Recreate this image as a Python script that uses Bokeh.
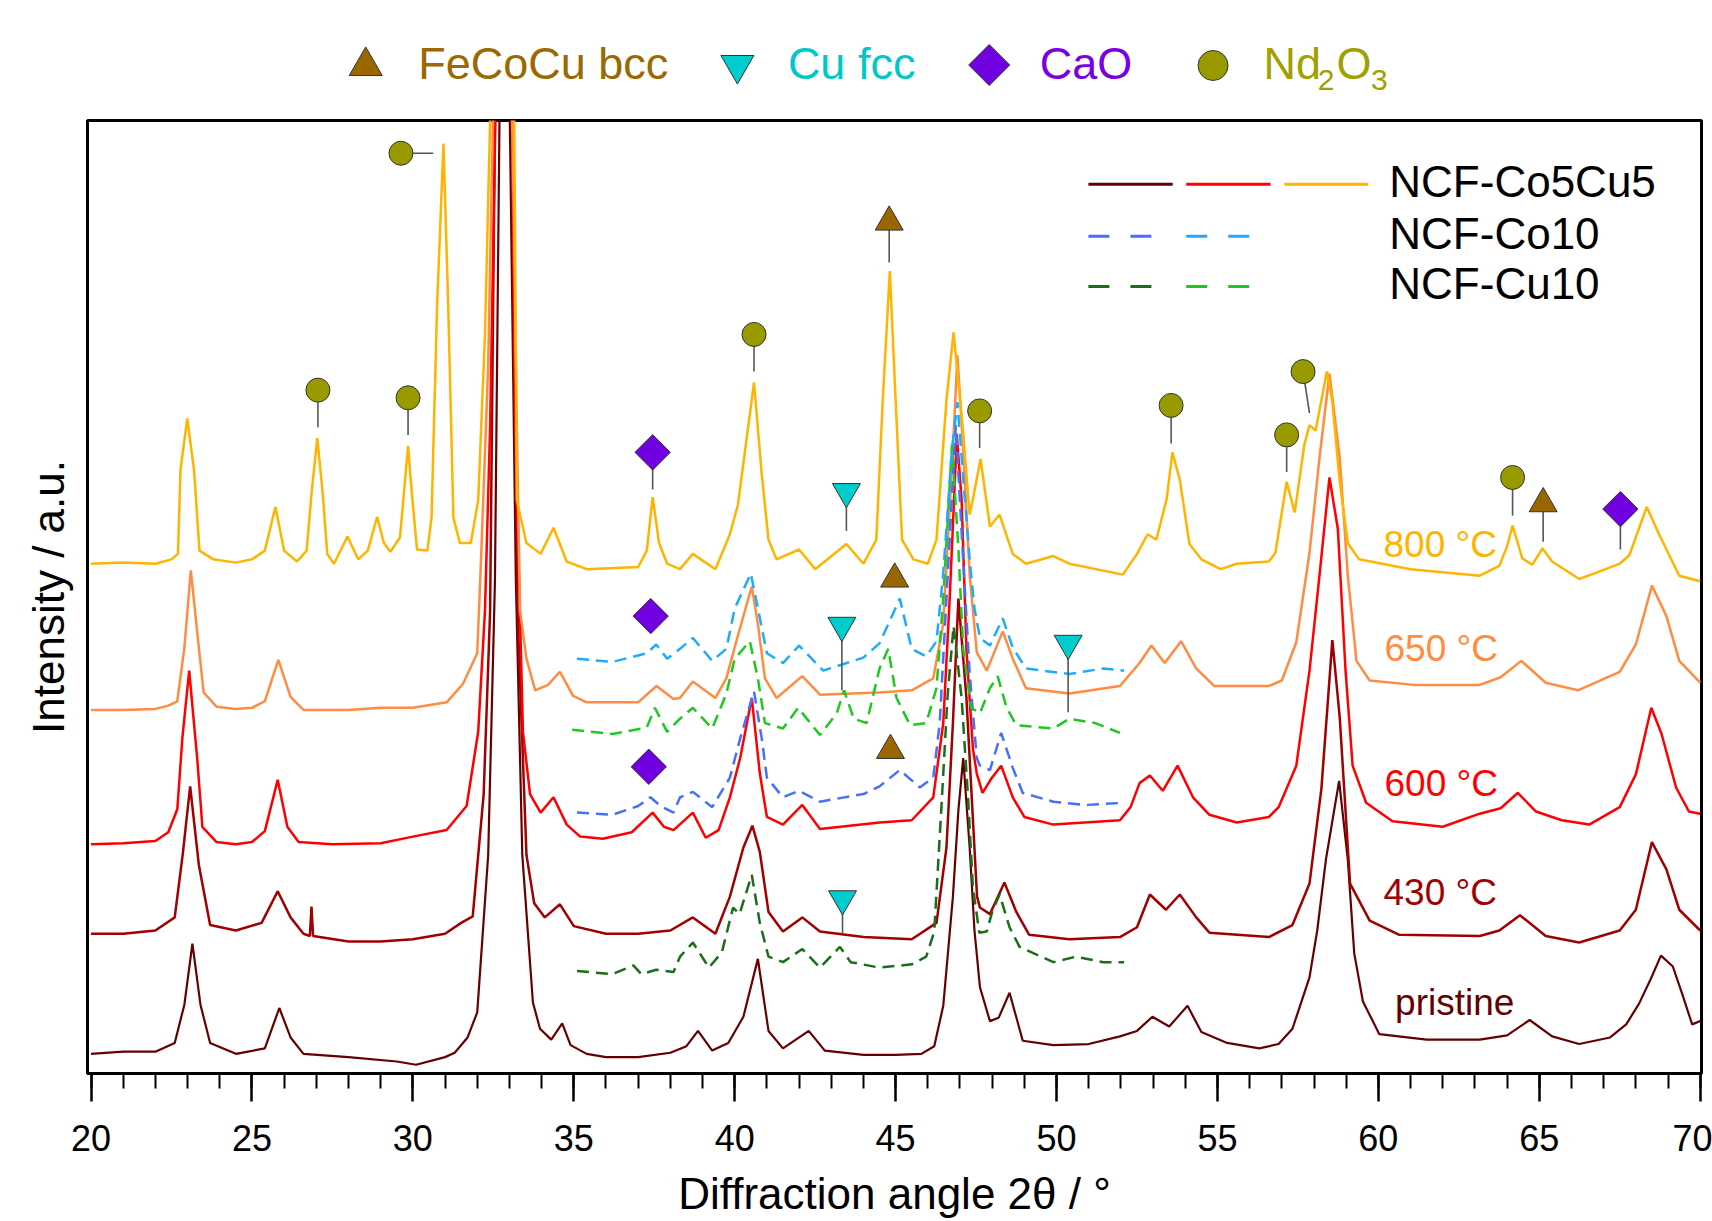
import math
from bokeh.plotting import figure
from bokeh.models import Range1d, SingleIntervalTicker, FixedTicker, Label
from bokeh.layouts import column
from bokeh.embed import file_html
from bokeh.resources import INLINE

FONT = "Liberation Sans"

# ---------------- data (2theta in deg, intensity in a.u. with vertical offsets as plotted) -------------
pristine = [(20.0,17),(21.0,19),(22.0,19),(22.6,27),(22.9,62),(23.15,118),(23.4,62),(23.7,27),(24.5,17),
            (25.4,22),(25.85,59),(26.2,32),(26.6,17),(28.0,14),(29.5,10),(30.1,7),(31.0,14),(31.3,18),
            (31.7,32),(32.0,55),(32.34,199),(32.55,450),(32.7,900),(32.85,1300),(33.0,900),(33.2,450),
            (33.4,199),(33.73,64),(33.95,40),(34.3,30),(34.64,45),(34.9,25),(35.4,17),(36.0,14),(37.0,14),
            (38.0,18),(38.5,24),(38.86,38),(39.3,20),(39.8,27),(40.27,51),(40.72,104),(41.05,38),(41.5,22),
            (42.3,38),(42.8,20),(44.0,16),(45.0,16),(45.8,17),(46.2,24),(46.48,61),(46.78,161),(46.95,240),
            (47.1,288),(47.3,206),(47.45,130),(47.62,78),(47.93,47),(48.2,50),(48.54,73),(48.95,29),
            (49.9,25),(51.0,26),(51.97,33),(52.5,38),(52.98,51),(53.5,42),(54.07,61),(54.5,37),(55.3,27),
            (56.3,22),(56.9,26),(57.33,40),(57.86,87),(58.1,130),(58.37,195),(58.78,267),(59.05,195),
            (59.25,109),(59.52,65),(60.03,35),(61.5,30),(63.15,30),(64.0,34),(64.7,48),(65.4,33),
            (66.24,26),(67.2,32),(67.7,44),(68.1,63),(68.47,86),(68.78,107),(69.15,97),(69.45,71),
            (69.75,44),(70.0,47)]

t430 = [(20.0,127),(21.0,127),(22.0,130),(22.6,142),(22.85,200),(23.08,262),(23.35,190),(23.7,135),
        (24.5,130),(25.3,137),(25.8,166),(26.2,142),(26.6,127),(26.8,125),(26.85,152),(26.9,125),
        (28.0,120),(29.0,120),(30.0,122),(31.0,127),(31.5,137),(31.86,143),(32.2,255),(32.4,423),
        (32.55,872),(32.8,1300),(33.1,872),(33.25,423),(33.53,199),(33.77,155),(34.1,142),(34.57,154),
        (35.0,134),(36.0,127),(37.0,127),(38.0,130),(38.7,142),(39.4,127),(39.85,161),(40.27,206),
        (40.55,226),(40.78,202),(41.05,147),(41.5,129),(42.1,142),(42.65,129),(44.0,124),(45.5,122),
        (46.27,137),(46.58,206),(46.78,320),(46.95,434),(47.2,343),(47.53,161),(47.62,151),(47.93,145),
        (48.38,174),(48.75,147),(49.15,126),(50.4,122),(51.97,124),(52.5,133),(52.9,163),(53.4,149),
        (53.83,163),(54.34,142),(54.75,128),(56.6,124),(57.33,135),(57.86,173),(58.23,260),(58.57,396),
        (58.8,325),(59.12,173),(59.73,139),(60.65,126),(63.15,125),(63.76,130),(64.4,144),(65.2,125),
        (66.24,119),(67.5,130),(68.0,149),(68.5,211),(68.95,186),(69.35,149),(70.0,130)]

t600 = [(20.0,209),(21.0,210),(22.0,212),(22.4,220),(22.68,241),(22.84,307),(23.05,368),(23.3,287),
        (23.46,225),(23.9,211),(24.5,209),(25.0,211),(25.4,221),(25.8,268),(26.1,225),(26.45,211),
        (27.5,209),(29.0,210),(30.0,216),(31.05,222),(31.67,244),(32.03,312),(32.24,423),(32.4,592),
        (32.5,760),(32.8,1300),(33.08,872),(33.18,592),(33.42,312),(33.64,255),(33.97,238),(34.37,252),
        (34.78,227),(35.2,216),(35.9,214),(36.8,220),(37.27,233),(37.45,238),(37.8,225),(38.1,222),
        (38.7,238),(39.1,215),(39.5,222),(39.85,252),(40.17,288),(40.53,343),(40.78,274),(41.0,234),
        (41.5,227),(42.1,245),(42.65,223),(44.5,229),(45.5,231),(46.17,252),(46.48,320),(46.68,434),
        (46.85,548),(46.9,584),(47.05,525),(47.2,388),(47.4,297),(47.52,274),(47.7,256),(47.97,269),
        (48.28,281),(48.64,252),(49.0,234),(49.9,227),(51.97,231),(52.3,243),(52.58,265),(52.9,272),
        (53.3,258),(53.76,281),(54.24,252),(54.75,236),(55.6,229),(56.6,234),(56.9,243),(57.45,281),
        (57.86,368),(58.17,455),(58.48,545),(58.74,498),(58.98,368),(59.2,281),(59.62,247),(60.44,230),
        (62.0,225),(63.15,237),(63.8,242),(64.33,256),(64.9,239),(65.7,231),(66.55,227),(67.5,243),
        (68.0,273),(68.48,334),(68.8,310),(69.25,261),(69.65,239),(70.0,237)]

t650 = [(20.0,332),(21.0,332),(22.0,333),(22.4,336),(22.68,340),(22.9,389),(23.1,460),(23.35,389),
        (23.5,348),(23.9,335),(24.5,333),(25.0,334),(25.4,340),(25.82,378),(26.2,344),(26.6,332),
        (28.0,332),(29.0,334),(30.0,334),(31.05,339),(31.56,356),(32.0,384),(32.13,479),(32.34,648),
        (32.45,816),(32.8,1300),(33.12,816),(33.23,592),(33.33,423),(33.53,379),(33.8,350),(34.2,355),
        (34.57,367),(34.98,345),(35.4,339),(37.0,339),(37.57,354),(38.1,342),(38.3,343),(38.7,358),
        (39.4,343),(39.74,361),(40.07,397),(40.53,445),(40.72,411),(40.94,361),(41.3,343),(42.1,363),
        (42.65,346),(44.5,348),(45.5,350),(46.17,361),(46.48,411),(46.78,571),(46.92,657),(47.1,571),
        (47.3,456),(47.52,385),(47.83,368),(48.33,404),(48.64,379),(49.05,352),(50.4,347),(51.97,354),
        (52.58,375),(52.95,391),(53.36,375),(53.87,395),(54.34,370),(54.9,354),(56.6,354),(57.0,359),
        (57.45,394),(57.86,476),(58.17,563),(58.48,640),(58.8,563),(59.05,455),(59.32,377),(59.73,359),
        (61.1,355),(63.15,355),(63.8,362),(64.44,377),(65.2,357),(66.2,350),(67.5,367),(68.0,392),
        (68.5,446),(68.95,418),(69.35,377),(70.0,357)]

t800 = [(20.0,466),(21.0,467),(22.0,466),(22.5,470),(22.7,475),(22.78,552),(22.99,599),(23.2,552),
        (23.37,478),(23.8,470),(24.5,467),(25.0,470),(25.4,478),(25.73,518),(26.0,478),(26.4,468),
        (26.7,478),(26.85,530),(27.03,581),(27.2,530),(27.34,475),(27.55,466),(27.97,491),(28.3,470),
        (28.6,478),(28.89,509),(29.1,485),(29.3,477),(29.6,490),(29.75,540),(29.85,574),(29.97,530),
        (30.13,479),(30.45,478),(30.58,508),(30.75,700),(30.95,851),(31.1,700),(31.26,508),(31.46,485),
        (31.8,485),(32.03,524),(32.24,676),(32.4,872),(32.8,1300),(33.15,872),(33.23,524),(33.53,485),
        (33.97,475),(34.37,499),(34.78,468),(35.4,461),(37.0,463),(37.27,478),(37.45,527),(37.65,485),
        (37.9,466),(38.3,461),(38.7,475),(39.4,461),(39.85,493),(40.1,520),(40.6,632),(40.84,548),
        (41.05,488),(41.3,470),(42.0,479),(42.5,461),(43.47,484),(44.0,466),(44.4,488),(44.6,616),
        (44.82,734),(45.0,616),(45.2,488),(45.55,470),(46.0,466),(46.27,488),(46.58,616),(46.8,678),
        (47.08,593),(47.3,511),(47.4,525),(47.64,562),(47.93,500),(48.23,511),(48.64,475),(49.05,466),
        (49.9,473),(50.4,466),(52.06,456),(52.5,475),(52.83,493),(53.1,488),(53.42,525),(53.6,568),
        (53.83,543),(54.13,484),(54.5,470),(55.1,461),(55.6,466),(56.6,468),(56.8,476),(57.15,541),
        (57.4,513),(57.7,575),(57.86,593),(58.05,588),(58.4,642),(58.57,614),(58.8,541),(59.05,485),
        (59.4,470),(61.0,461),(63.15,455),(63.76,464),(64.0,482),(64.17,501),(64.47,471),(64.78,465),
        (65.1,480),(65.4,468),(66.24,452),(66.8,458),(67.5,466),(67.8,474),(68.34,518),(68.72,493),
        (69.35,455),(70.0,450)]

co10_650 = [(35.1,379),(36.2,376),(37.27,384),(37.56,392),(37.9,379),(38.3,388),(38.7,398),(39.3,377),
            (39.74,388),(40.0,425),(40.5,457),(40.72,425),(41.0,384),(41.5,375),(42.0,391),(42.75,368),
            (44.0,380),(44.5,393),(45.13,434),(45.5,388),(45.95,381),(46.27,395),(46.48,457),(46.75,571),
            (46.92,614),(47.1,545),(47.3,470),(47.45,425),(47.62,398),(47.93,391),(48.33,416),(48.64,389),
            (49.05,370),(50.4,365),(51.45,370),(52.1,368)]

cu10_650 = [(34.95,314),(36.2,310),(37.27,316),(37.52,334),(37.9,312),(38.3,324),(38.7,334),(39.3,315),
            (39.74,347),(40.0,379),(40.47,395),(40.72,361),(40.94,320),(41.5,315),(41.97,334),(42.65,309),
            (43.17,329),(43.4,350),(43.7,324),(44.1,320),(44.5,370),(44.77,388),(45.03,343),(45.45,318),
            (45.95,320),(46.27,352),(46.48,434),(46.75,575),(46.95,480),(47.1,388),(47.35,334),(47.62,329),
            (47.93,352),(48.17,363),(48.45,334),(48.75,318),(49.9,315),(50.4,324),(51.2,320),(51.97,311)]

co10_600 = [(35.1,238),(36.2,236),(37.0,244),(37.38,252),(37.7,244),(38.1,238),(38.3,252),(38.7,257),
            (39.3,243),(39.85,270),(40.17,306),(40.6,349),(40.84,306),(41.0,270),(41.5,252),(42.0,258),
            (42.65,248),(44.0,255),(44.5,262),(45.13,277),(45.75,261),(46.17,270),(46.37,320),(46.58,434),
            (46.87,593),(47.08,479),(47.3,366),(47.52,288),(47.62,281),(47.93,277),(48.28,311),(48.64,279),
            (48.95,256),(49.9,248),(50.9,245),(52.1,247)]

cu10_430 = [(35.1,93),(36.2,90),(36.85,98),(37.1,90),(37.56,94),(38.1,92),(38.3,106),(38.7,119),(39.2,96),
            (39.6,110),(39.95,151),(40.15,145),(40.53,181),(40.78,137),(41.05,106),(41.5,101),(42.1,113),
            (42.65,96),(43.27,115),(43.6,101),(44.5,96),(45.5,99),(45.95,106),(46.2,129),(46.44,252),
            (46.61,343),(46.8,409),(47.05,343),(47.25,252),(47.4,170),(47.6,128),(47.83,129),(48.0,147),
            (48.23,163),(48.54,133),(48.85,115),(49.9,101),(50.6,106),(51.45,101),(52.1,101)]

temp_labels = ["800 °C", "650 °C", "600 °C", "430 °C", "pristine"]
legend_labels = ["NCF-Co5Cu5", "NCF-Co10", "NCF-Cu10"]
phase_names = ["FeCoCu bcc", "Cu fcc", "CaO", "Nd2O3"]

# reflection markers: phase, 2theta, marker height, stem end (x, y) or None
ann_phase = ["Nd2O3", "Nd2O3", "Nd2O3", "Nd2O3", "CaO", "Cu fcc", "FeCoCu bcc", "Nd2O3", "Nd2O3",
             "Nd2O3", "Nd2O3", "Nd2O3", "FeCoCu bcc", "CaO", "CaO", "FeCoCu bcc", "Cu fcc", "Cu fcc",
             "CaO", "FeCoCu bcc", "Cu fcc"]
ann_x = [27.05, 29.85, 29.63, 40.6, 37.45, 43.47, 44.8, 47.61, 53.56, 57.15, 57.66, 64.17, 65.12, 67.52,
         37.39, 44.97, 43.33, 50.36, 37.33, 44.84, 43.35]
ann_y = [625, 618, 842, 676, 568, 532, 779, 606, 611, 584, 642, 545, 521, 516,
         418, 452, 409.5, 393, 280, 295, 159]
ann_stem_x = [27.05, 29.85, 30.63, 40.6, 37.45, 43.47, 44.8, 47.61, 53.56, 57.15, 57.86, 64.17, 65.12, 67.52,
              None, None, 43.33, 50.36, None, None, 43.35]
ann_stem_y = [591, 584, 842, 642, 534, 496, 742, 572, 576, 550, 604, 510, 486, 479,
              None, None, 350, 330, None, None, 127]

# ---------------- styles / layout ----------------
C_PRI, C_430, C_600, C_650, C_800 = "#640000", "#a00000", "#ff0000", "#ff8c40", "#ffb400"
C_CO650, C_CO600, C_CU650, C_CU430 = "#1eaaff", "#466eff", "#1ec81e", "#196e19"
phase_style = {
    "FeCoCu bcc": dict(marker="triangle", size=28, angle=0.0, fill="#996600", text="#9b6900"),
    "Cu fcc": dict(marker="inverted_triangle", size=28, angle=0.0, fill="#00cccc", text="#00c8c8"),
    "CaO": dict(marker="square", size=25, angle=math.pi / 4, fill="#7000e0", text="#7a00e6"),
    "Nd2O3": dict(marker="circle", size=24, angle=0.0, fill="#999900", text="#a0a000"),
}

X0, X1 = 19.89, 70.04
W = 1712
TOP_H = 118
MAIN_H = 1221 - TOP_H
BL, BR = 87, 11
UNIT = 953.0 / 873.0          # px per intensity unit in main frame
BASE_SHIFT = 0.355            # label anchor correction, in em


def lift(font_px, unit=1.0):
    return BASE_SHIFT * font_px / unit


# ---------------- top phase legend ----------------
top = figure(width=W, height=TOP_H, x_range=Range1d(X0, X1), y_range=Range1d(0, TOP_H),
             output_backend="svg", toolbar_location=None, x_axis_location=None, y_axis_location=None,
             min_border_left=BL, min_border_right=BR, min_border_top=0, min_border_bottom=0)
top.grid.visible = False
top.outline_line_color = None
top.background_fill_color = "white"
top.border_fill_color = "white"

leg_marker_x = [28.535, 40.084, 47.908, 54.863]
leg_marker_y = [52.5, 53.5, 53.5, 53.0]
leg_marker_size = [33, 33, 29, 30]
leg_text_x = [30.165, 41.652, 49.476]
for i, name in enumerate(phase_names):
    st = phase_style[name]
    top.scatter([leg_marker_x[i]], [leg_marker_y[i]], marker=st["marker"], size=leg_marker_size[i],
                angle=st["angle"], fill_color=st["fill"], line_color="#333333", line_width=1)
    if name != "Nd2O3":
        top.add_layout(Label(x=leg_text_x[i], y=39 + lift(45), text=name, text_font=FONT,
                             text_font_size="45px", text_color=st["text"], text_baseline="alphabetic",
                             text_align="left"))
nd_col = phase_style["Nd2O3"]["text"]
for txt, xx, yy, fs in [("Nd", 56.431, 39, 45), ("2", 58.12, 28, 30),
                        ("O", 58.70, 39, 45), ("3", 59.77, 28, 30)]:
    top.add_layout(Label(x=xx, y=yy + lift(fs), text=txt, text_font=FONT, text_font_size=f"{fs}px",
                         text_color=nd_col, text_baseline="alphabetic", text_align="left"))

# ---------------- main plot ----------------
p = figure(width=W, height=MAIN_H, x_range=Range1d(X0, X1), y_range=Range1d(-1, 872),
           output_backend="svg", toolbar_location=None,
           min_border_left=BL, min_border_right=BR, min_border_top=2, min_border_bottom=148)
p.grid.visible = False
p.outline_line_color = "black"
p.outline_line_width = 3
p.background_fill_color = "white"
p.border_fill_color = "white"

xa = p.xaxis[0]
xa.ticker = SingleIntervalTicker(interval=5, num_minor_ticks=5)
xa.axis_label = "Diffraction angle 2θ / °"
xa.axis_label_text_font = FONT
xa.axis_label_text_font_size = "44px"
xa.axis_label_text_font_style = "normal"
xa.axis_label_text_color = "black"
xa.axis_label_standoff = 15
xa.major_label_text_font = FONT
xa.major_label_text_font_size = "36px"
xa.major_label_text_color = "black"
xa.major_label_standoff = 23
xa.major_tick_out = 28
xa.major_tick_in = 0
xa.minor_tick_out = 15
xa.minor_tick_in = 0
xa.major_tick_line_width = 2.5
xa.minor_tick_line_width = 2
xa.major_tick_line_color = "black"
xa.minor_tick_line_color = "black"
xa.axis_line_width = 3
xa.axis_line_color = "black"

ya = p.yaxis[0]
ya.ticker = FixedTicker(ticks=[], minor_ticks=[])
ya.axis_label = "Intensity / a.u."
ya.axis_label_text_font = FONT
ya.axis_label_text_font_size = "44px"
ya.axis_label_text_font_style = "normal"
ya.axis_label_text_color = "black"
ya.axis_label_standoff = 15
ya.major_tick_out = 0
ya.major_tick_in = 0
ya.minor_tick_out = 0
ya.minor_tick_in = 0
ya.major_tick_line_color = None
ya.minor_tick_line_color = None
ya.axis_line_width = 3
ya.axis_line_color = "black"

solid = [(pristine, C_PRI, 2.2), (t430, C_430, 2.5), (t600, C_600, 2.5), (t650, C_650, 2.5), (t800, C_800, 2.5)]
for data, col, lw in solid:
    xs = [d[0] for d in data]
    ys = [d[1] for d in data]
    p.line(xs, ys, line_color=col, line_width=lw)

dashed = [(cu10_430, C_CU430), (co10_600, C_CO600), (cu10_650, C_CU650), (co10_650, C_CO650)]
for data, col in dashed:
    xs = [d[0] for d in data]
    ys = [d[1] for d in data]
    p.line(xs, ys, line_color=col, line_width=2.5, line_dash="12 7")

# stems and markers
sx0, sy0, sx1, sy1 = [], [], [], []
for i in range(len(ann_x)):
    if ann_stem_x[i] is not None:
        sx0.append(ann_x[i]); sy0.append(ann_y[i]); sx1.append(ann_stem_x[i]); sy1.append(ann_stem_y[i])
p.segment(sx0, sy0, sx1, sy1, line_color="#555555", line_width=1.6)
for name in phase_names:
    st = phase_style[name]
    xs = [ann_x[i] for i in range(len(ann_x)) if ann_phase[i] == name]
    ys = [ann_y[i] for i in range(len(ann_x)) if ann_phase[i] == name]
    p.scatter(xs, ys, marker=st["marker"], size=st["size"], angle=st["angle"],
              fill_color=st["fill"], line_color="#333333", line_width=1)

# temperature labels
temp_x = [60.16, 60.19, 60.19, 60.16, 60.52]
temp_y = [472, 376, 253, 153, 52]
temp_col = [C_800, C_650, C_600, C_430, C_PRI]
for lab, xx, yy, col in zip(temp_labels, temp_x, temp_y, temp_col):
    p.add_layout(Label(x=xx, y=yy + lift(37, UNIT), text=lab, text_font=FONT, text_font_size="37px",
                       text_color=col, text_baseline="alphabetic", text_align="left"))

# series legend (top right, inside frame)
row_y = [813.5, 766, 720]
text_y = [801.6, 754.6, 708]
seg_sets = [
    [(50.99, 53.61, C_PRI), (54.03, 56.65, C_600), (57.08, 59.69, C_800)],
    [(50.99, 52.97, C_CO600), (54.03, 56.0, C_CO650)],
    [(50.99, 52.97, C_CU430), (54.03, 56.0, C_CU650)],
]
for r, segs in enumerate(seg_sets):
    for (a, b, col) in segs:
        p.segment([a], [row_y[r]], [b], [row_y[r]], line_color=col, line_width=3,
                  line_dash="solid" if r == 0 else "21 21")
    p.add_layout(Label(x=60.34, y=text_y[r] + lift(44, UNIT), text=legend_labels[r], text_font=FONT,
                       text_font_size="44px", text_color="black", text_baseline="alphabetic",
                       text_align="left"))

layout = column(top, p, spacing=0)
open("out.html", "w").write(file_html(layout, INLINE))
